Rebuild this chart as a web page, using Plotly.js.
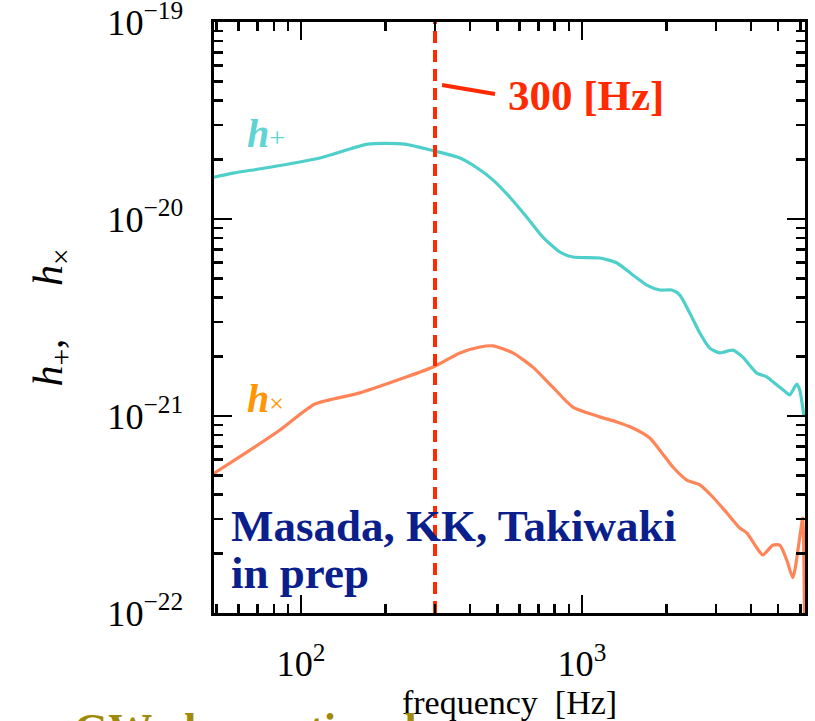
<!DOCTYPE html>
<html>
<head>
<meta charset="utf-8">
<script src="https://cdn.plot.ly/plotly-3.0.1.min.js"></script>
<style>html,body{margin:0;padding:0;background:#fff;}#chart{width:815px;height:721px;}</style>
</head>
<body>
<div id="chart"></div>
<script>
// ---- data ----
const freqPlus = [49, 57.3, 75.7, 116.8, 173, 234, 300, 368, 423, 482, 554, 637, 726, 835, 929, 1159, 1333, 1518, 1703, 1895, 2090, 2233, 2422, 2630, 2855, 3098, 3445, 3740, 4197, 4550, 4940, 5364, 5500, 5823, 5970, 6166];
const hPlus = [1.63e-20, 1.71e-20, 1.82e-20, 2.04e-20, 2.40e-20, 2.40e-20, 2.21e-20, 2.04e-20, 1.82e-20, 1.58e-20, 1.29e-20, 1.02e-20, 8.1e-21, 6.8e-21, 6.41e-21, 6.34e-21, 5.98e-21, 5.2e-21, 4.62e-21, 4.36e-21, 4.36e-21, 4.11e-21, 3.33e-21, 2.64e-21, 2.21e-21, 2.09e-21, 2.16e-21, 1.99e-21, 1.65e-21, 1.58e-21, 1.44e-21, 1.31e-21, 1.28e-21, 1.45e-21, 1.35e-21, 1.01e-21];
const freqCross = [48.6, 65.8, 84.2, 112.1, 162, 238, 300, 368, 434, 482, 568, 669, 788, 929, 1159, 1333, 1518, 1745, 1895, 2109, 2365, 2630, 2925, 3283, 3650, 3866, 4197, 4406, 4784, 5066, 5364, 5640, 5970, 6110, 6220];
const hCross = [5.08e-22, 6.71e-22, 8.49e-22, 1.15e-21, 1.31e-21, 1.58e-21, 1.79e-21, 2.09e-21, 2.24e-21, 2.27e-21, 2.09e-21, 1.77e-21, 1.40e-21, 1.11e-21, 9.9e-22, 9.33e-22, 8.69e-22, 7.73e-22, 6.71e-22, 5.51e-22, 4.73e-22, 4.47e-22, 3.88e-22, 3.22e-22, 2.70e-22, 2.55e-22, 2.14e-22, 1.97e-22, 2.21e-22, 2.21e-22, 1.86e-22, 1.51e-22, 2.43e-22, 3.03e-22, 6e-23];
const markerFreq = [300, 300];
const markerH = [1e-22, 1e-19];
const xRangeHz = [49, 6230];
const yRangeVal = [1e-22, 1e-19];
const seriesNames = ['h+', 'h×'];

// ---- minor tick positions ----
function minorTicks(lo, hi) {
  const out = [];
  for (let e = Math.floor(Math.log10(lo)); e <= Math.ceil(Math.log10(hi)); e++) {
    for (let m = 2; m <= 9; m++) {
      const v = m * Math.pow(10, e);
      if (v >= lo && v <= hi) out.push(v);
    }
  }
  return out;
}
const r6 = v => Math.round(Math.log10(v) * 1e6) / 1e6;
const xr = xRangeHz.map(r6);
const yr = yRangeVal.map(r6);

const serif = 'Liberation Serif, Times New Roman, serif';
const cPlus = '#4fcfca';
const cCross = '#ff8559';
const cRed = '#ff2a00';

const traces = [
  {x: freqPlus, y: hPlus, name: seriesNames[0], type: 'scatter', mode: 'lines',
   line: {color: cPlus, width: 3.2, shape: 'spline', smoothing: 0.6}},
  {x: freqCross, y: hCross, name: seriesNames[1], type: 'scatter', mode: 'lines',
   line: {color: cCross, width: 3.2, shape: 'spline', smoothing: 0.6}},
  {x: markerFreq, y: markerH, name: '300 Hz', type: 'scatter', mode: 'lines',
   line: {color: cRed, width: 4, dash: '12px,7px'}},
  {x: [], y: [], xaxis: 'x2', yaxis: 'y2', type: 'scatter', mode: 'lines', showlegend: false, hoverinfo: 'skip'}
];

const axisCommon = {
  type: 'log', showgrid: false, zeroline: false,
  showline: true, linecolor: '#000', linewidth: 3, mirror: 'allticks',
  ticks: 'inside', tickcolor: '#000', tickwidth: 2.5
};

const sp = '\u00a0';
const layout = {
  width: 815, height: 721,
  margin: {l: 214, r: 10, t: 22, b: 108},
  paper_bgcolor: '#fff', plot_bgcolor: '#fff',
  showlegend: false,
  font: {family: serif, color: '#000'},
  xaxis: Object.assign({}, axisCommon, {
    range: xr, dtick: 1, tick0: 0, ticklen: 18,
    exponentformat: 'power', ticklabelstandoff: 18, ticklabeloverflow: 'allow',
    tickfont: {family: serif, size: 29, color: '#000'},
    title: {text: 'frequency' + sp + sp + '[Hz]', font: {family: serif, size: 34, color: '#000'}, standoff: 0}
  }),
  yaxis: Object.assign({}, axisCommon, {
    range: yr, dtick: 1, tick0: 0, ticklen: 18,
    exponentformat: 'power', ticklabelstandoff: 22, ticklabeloverflow: 'allow',
    tickfont: {family: serif, size: 29, color: '#000'},
    title: {text: '<i>h</i><sub>+</sub>,' + sp.repeat(5) + '<i>h</i><sub>×</sub>', font: {family: serif, size: 42, color: '#000'}, standoff: 32}
  }),
  xaxis2: Object.assign({}, axisCommon, {
    overlaying: 'x', anchor: 'y2', side: 'bottom', range: xr,
    tickmode: 'array', tickvals: minorTicks(xRangeHz[0], xRangeHz[1]), ticklen: 9, showticklabels: false
  }),
  yaxis2: Object.assign({}, axisCommon, {
    overlaying: 'y', anchor: 'x2', side: 'left', range: yr,
    tickmode: 'array', tickvals: minorTicks(yRangeVal[0], yRangeVal[1]), ticklen: 9, showticklabels: false
  }),
  shapes: [
    {type: 'line', xref: 'paper', yref: 'paper', x0: (442-214)/591, y0: 1-(85-22)/591, x1: (495-214)/591, y1: 1-(94-22)/591,
     line: {color: cRed, width: 4}}
  ],
  annotations: [
    {xref: 'paper', yref: 'paper', x: (586-214)/591, y: 1-(95-22)/591, xanchor: 'center', yanchor: 'middle',
     text: '<b>300 [Hz]</b>', showarrow: false, font: {family: serif, size: 43, color: cRed}},
    {xref: 'paper', yref: 'paper', x: (245-214)/591, y: 1-(133-22)/591, xanchor: 'left', yanchor: 'middle',
     text: '<b><i>h</i></b><span style="font-size:28px">+</span>', showarrow: false, font: {family: serif, size: 40, color: '#5fd4d4'}},
    {xref: 'paper', yref: 'paper', x: (245-214)/591, y: 1-(399-22)/591, xanchor: 'left', yanchor: 'middle',
     text: '<b><i>h</i></b><span style="font-size:26px">×</span>', showarrow: false, font: {family: serif, size: 40, color: '#ff9500'}},
    {xref: 'paper', yref: 'paper', x: (229-214)/591, y: 1-(526-22)/591, xanchor: 'left', yanchor: 'middle',
     text: '<b>Masada, KK, Takiwaki</b>', showarrow: false, font: {family: serif, size: 45, color: '#0a1e8c'}},
    {xref: 'paper', yref: 'paper', x: (229-214)/591, y: 1-(573-22)/591, xanchor: 'left', yanchor: 'middle',
     text: '<b>in prep</b>', showarrow: false, font: {family: serif, size: 45, color: '#0a1e8c'}},
    {xref: 'paper', yref: 'paper', x: (72-214)/591, y: 1-(703-22)/591, xanchor: 'left', yanchor: 'top',
     text: '<b>GW observational</b>', showarrow: false, font: {family: serif, size: 44, color: '#a08a0a'}}
  ]
};

Plotly.newPlot('chart', traces, layout, {displayModeBar: false, staticPlot: true});
</script>
</body>
</html>
